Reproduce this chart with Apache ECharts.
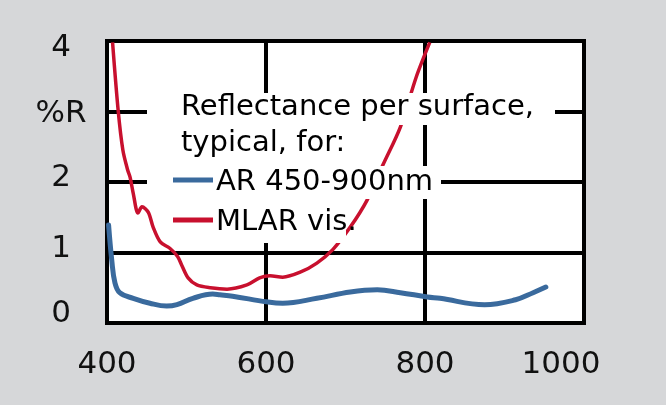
<!DOCTYPE html>
<html lang="en">
<head>
    <meta charset="UTF-8">
    <title>Reflectance per surface</title>
    <script src="https://cdn.jsdelivr.net/npm/echarts@6/dist/echarts.min.js"></script>
    <style>
        html, body { margin: 0; padding: 0; background: #d6d7d9; }
        #main { width: 666px; height: 405px; }
    </style>
</head>
<body>
<div id="main"></div>
<script>
    // wavelength (nm) and reflectance (%R)
    const arWave = [402, 406, 410, 416, 433, 454, 475, 488, 508, 533, 542, 558, 601, 621, 664, 706, 740, 769, 803, 819, 875, 914, 936, 952];
    const arRefl = [1.39, 0.89, 0.57, 0.43, 0.35, 0.28, 0.24, 0.26, 0.35, 0.41, 0.40, 0.38, 0.30, 0.28, 0.35, 0.44, 0.47, 0.43, 0.37, 0.35, 0.26, 0.33, 0.43, 0.51];
    const mlarWave = [407, 414, 420, 426, 429, 433, 439, 444, 452, 458, 467, 479, 489, 494, 502, 513, 530, 551, 576, 592, 605, 621, 643, 664, 684, 706, 727, 747, 769, 789, 806];
    const mlarRefl = [3.98, 3.02, 2.45, 2.17, 2.07, 1.84, 1.56, 1.65, 1.57, 1.36, 1.15, 1.06, 0.94, 0.82, 0.64, 0.54, 0.50, 0.48, 0.54, 0.64, 0.67, 0.65, 0.72, 0.85, 1.04, 1.36, 1.74, 2.24, 2.78, 3.49, 3.98];
    const xTicks = [400, 600, 800, 1000];
    const yTickLabels = ['0', '1', '2', '%R', '4'];
    const seriesNames = ['AR 450-900nm', 'MLAR vis.'];
    const legendTitle = ['Reflectance per surface,', 'typical, for:'];

    const blue = '#3a6a9d';
    const red = '#c8102e';
    const font = '"DejaVu Sans", sans-serif';

    let myChart = echarts.init(document.getElementById('main'));

    const pair = (xs, ys) => xs.map((x, i) => [x, ys[i]]);

    // white boxes behind each legend row (they cut the grid lines like the original)
    const rowBoxes = [
        {x: 147, y: 93, w: 408, h: 32},
        {x: 147, y: 125, w: 203, h: 41},
        {x: 147, y: 166, w: 294, h: 33},
        {x: 168, y: 199, w: 178, h: 44}
    ];
    const rowTextY = [107, 143, 182, 222];
    let graphic = rowBoxes.map(b => ({
        type: 'rect', z: 100,
        shape: {x: b.x, y: b.y, width: b.w, height: b.h},
        style: {fill: '#fff'}
    }));
    legendTitle.forEach((t, i) => graphic.push({
        type: 'text', z: 101, x: 181, y: rowTextY[i],
        style: {text: t, fill: '#000', font: '29px ' + font, verticalAlign: 'middle'}
    }));
    [blue, red].forEach((c, i) => {
        graphic.push({
            type: 'line', z: 101,
            shape: {x1: 173, y1: rowTextY[i + 2] - 2, x2: 213, y2: rowTextY[i + 2] - 2},
            style: {stroke: c, lineWidth: 5}
        });
        graphic.push({
            type: 'text', z: 101, x: 216, y: rowTextY[i + 2],
            style: {text: seriesNames[i], fill: '#000', font: '29px ' + font, verticalAlign: 'middle'}
        });
    });

    // small per-label vertical nudges, as in the original artwork
    const yRich = {
        t0: {padding: [0, 0, 18, 0]},
        t1: {padding: [0, 0, 8, 0]},
        t2: {padding: [0, 0, 8, 0]},
        t3: {padding: [4, 0, 0, 0]},
        t4: {padding: [14, 0, 0, 0]}
    };
    Object.values(yRich).forEach(r => Object.assign(r, {fontFamily: font, fontSize: 31, color: '#111'}));

    let option = {
        backgroundColor: '#d6d7d9',
        animation: false,
        grid: {
            left: 107, top: 41, right: 82, bottom: 82,
            show: true,
            backgroundColor: '#fff',
            borderColor: '#000',
            borderWidth: 4
        },
        xAxis: {
            type: 'value',
            min: 400, max: 1000, interval: 200,
            axisLine: {show: false},
            axisTick: {show: false},
            splitLine: {lineStyle: {color: '#000', width: 4}},
            axisLabel: {
                margin: 26,
                color: '#111',
                fontFamily: font,
                fontSize: 31,
                formatter: v => xTicks.indexOf(v) === 3 ? '{s|' + v + '}' : '' + v,
                rich: {s: {fontFamily: font, fontSize: 31, color: '#111', padding: [0, 46, 0, 0]}}
            }
        },
        yAxis: {
            type: 'value',
            min: 0, max: 4, interval: 1,
            axisLine: {show: false},
            axisTick: {show: false},
            splitLine: {lineStyle: {color: '#000', width: 4}},
            axisLabel: {
                margin: 46,
                align: 'center',
                formatter: v => '{t' + v + '|' + yTickLabels[v] + '}',
                rich: yRich
            }
        },
        graphic: graphic,
        series: [
            {
                name: seriesNames[0],
                type: 'line',
                data: pair(arWave, arRefl),
                smooth: 0.4,
                showSymbol: false,
                lineStyle: {color: blue, width: 5, cap: 'round'}
            },
            {
                name: seriesNames[1],
                type: 'line',
                data: pair(mlarWave, mlarRefl),
                smooth: 0.3,
                showSymbol: false,
                lineStyle: {color: red, width: 3.5}
            }
        ]
    };

    myChart.setOption(option);
</script>
</body>
</html>
